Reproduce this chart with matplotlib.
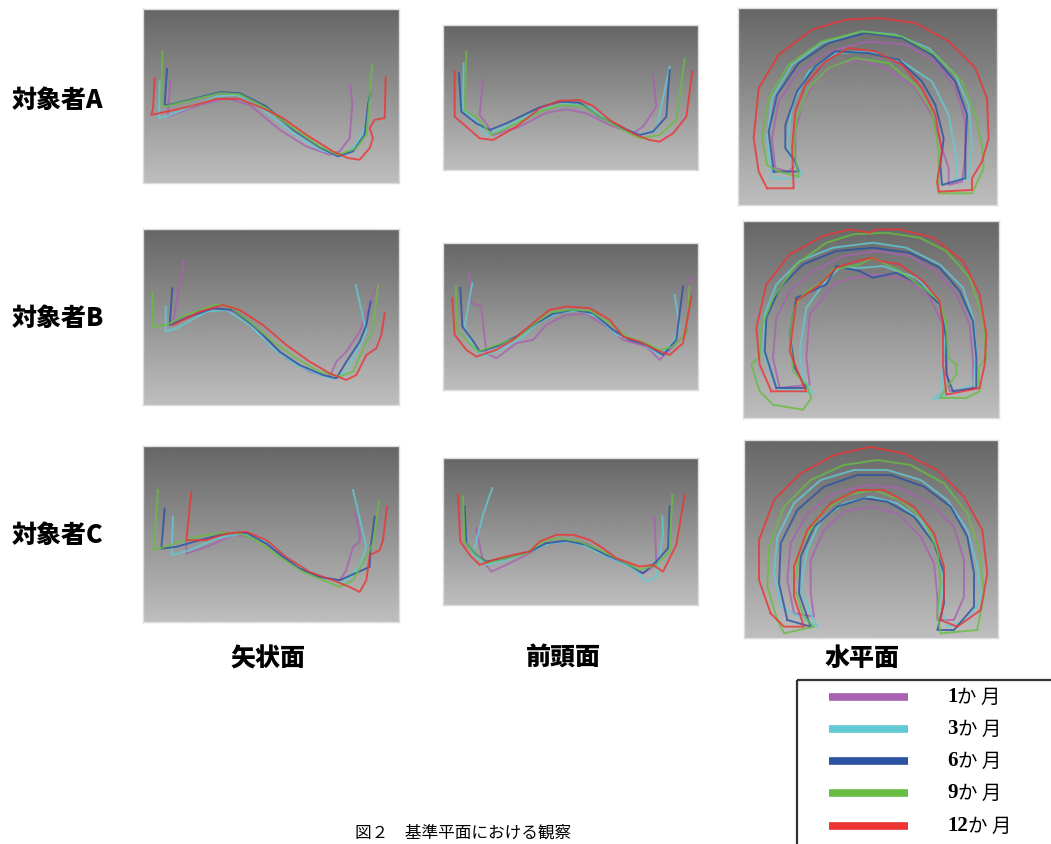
import numpy as np
import matplotlib
matplotlib.use("Agg")
import matplotlib.pyplot as plt
from matplotlib.patches import Rectangle

plt.rcParams['font.family'] = ['Noto Sans CJK JP', 'DejaVu Sans']

W, H = 1051, 844

months = ["1", "3", "6", "9", "12"]
colors = ["#a862b0", "#62cad4", "#2c52a2", "#68bd42", "#ec3434"]
row_labels = ["対象者A", "対象者B", "対象者C"]
col_labels = ["矢状面", "前頭面", "水平面"]
caption = "図２　基準平面における観察"

# traced outlines, one list per period (order: 1, 3, 6, 9, 12 months)
# --- subject A ---
sag_a = [
    [(92,228),(85,320),(85,335),(180,300),(260,280),(330,300),(420,375),(500,425),(570,450),(600,440),(630,400),(638,300),(632,240)],
    [(60,230),(58,340),(80,335),(230,275),(290,270),(370,315),(460,385),(540,435),(605,455),(650,420),(680,360),(690,290)],
    [(82,192),(75,300),(90,300),(240,262),(300,265),(380,305),(460,375),(540,428),(595,455),(640,440),(675,390),(685,300),(692,265)],
    [(68,140),(65,300),(75,305),(240,265),(300,268),(380,310),(460,370),(540,425),(595,450),(650,430),(680,390),(690,280),(697,180)],
    [(45,220),(40,310),(35,330),(60,325),(150,305),(230,282),(300,282),(380,315),(430,340),(500,390),(580,440),(625,460),(660,465),(690,430),(700,400),(690,370),(705,345),(735,340),(738,218)],
]
fro_a = [
    [(130,180),(120,285),(140,310),(160,345),(240,320),(320,278),(380,268),(440,280),(510,315),(580,340),(610,320),(650,260),(640,165)],
    [(72,130),(70,270),(110,305),(140,345),(220,310),(300,268),(380,250),(450,262),(520,310),(600,345),(650,330),(690,140)],
    [(58,160),(65,275),(110,310),(150,330),(200,310),(300,262),(360,245),(420,248),(480,290),(540,320),(600,345),(640,335),(680,290),(690,150)],
    [(80,95),(75,270),(120,300),(155,345),(200,325),(300,275),(360,255),(430,258),(490,295),(550,330),(600,355),(660,345),(710,300),(735,115)],
    [(45,155),(45,290),(80,320),(120,355),(160,360),(230,320),(300,265),(360,242),(420,240),(460,258),(510,300),(590,345),(630,360),(660,365),(700,340),(740,290),(758,155)],
]
hor_a = [
    [(120,490),(110,400),(130,290),(190,200),(280,140),(400,110),(510,120),(600,170),(660,250),(690,350),(690,450),(680,530),(640,540),(640,490),(620,430),(590,330),(540,250),(460,195),(380,165),(300,180),(240,230),(200,300),(180,380),(180,480),(160,500),(120,490)],
    [(110,520),(95,400),(110,280),(170,180),(260,115),(380,80),(480,90),(580,130),(660,210),(700,300),(710,420),(700,520),(660,525),(665,470),(640,330),(590,230),(500,170),(400,140),(300,145),(220,200),(170,300),(155,420),(170,470),(200,505),(180,520),(110,520)],
    [(115,500),(100,380),(125,270),(190,175),(280,115),(390,85),(500,100),(590,150),(660,230),(695,330),(690,440),(690,520),(620,540),(615,480),(625,400),(600,300),(560,230),(490,165),(400,145),(300,140),(240,185),(185,260),(150,360),(150,430),(180,470),(190,500),(115,500)],
    [(95,480),(80,400),(100,280),(160,180),(260,110),(380,80),(500,95),(600,150),(680,230),(720,330),(740,420),(745,490),(710,565),(610,565),(610,520),(610,440),(590,320),(540,240),(460,175),(360,160),(280,190),(220,250),(185,340),(175,430),(190,515),(130,500),(95,480)],
    [(95,550),(70,500),(55,400),(70,250),(130,150),(230,75),(330,45),(430,40),(540,55),(640,110),(720,190),(755,280),(760,400),(740,470),(710,520),(710,555),(610,560),(605,530),(620,440),(600,330),(560,250),(500,180),(420,140),(340,130),(270,170),(210,240),(180,320),(170,430),(175,550),(95,550)],
]
# --- subject B ---
sag_b = [
    [(132,110),(100,290),(160,270),(230,248),(300,265),(370,330),(440,400),(510,440),(570,455),(590,410),(620,380),(660,320),(710,185)],
    [(78,245),(78,320),(110,310),(200,260),(260,255),(330,300),(400,370),(470,420),(540,450),(580,462),(620,440),(650,380),(680,320),(648,180)],
    [(98,190),(90,300),(150,275),(220,250),(280,255),(350,310),(420,380),(480,420),(550,450),(590,460),(620,410),(660,350),(680,300),(693,230)],
    [(38,200),(38,305),(80,300),(140,270),(230,238),(270,245),(330,290),(400,350),(470,400),(540,440),(600,455),(640,440),(680,350),(700,320),(715,180)],
    [(100,300),(180,260),(250,240),(300,255),(370,300),(440,360),(510,410),(570,445),(620,465),(650,450),(680,390),(710,370),(725,330),(735,265)],
]
fro_b = [
    [(88,95),(95,190),(125,200),(140,340),(170,355),(230,310),(280,300),(320,255),(380,225),(440,222),(500,260),(550,300),(620,320),(660,360),(700,320),(740,280),(755,110)],
    [(98,130),(75,260),(100,320),(130,350),(200,320),(250,290),(300,245),(360,218),(420,212),(470,230),(530,285),(600,305),(660,345),(700,310),(720,260),(705,165)],
    [(62,145),(68,260),(105,310),(120,335),(170,320),(230,290),(290,250),(340,222),(400,210),(460,220),(520,270),(570,300),(620,315),(670,345),(710,300),(730,140)],
    [(48,140),(52,270),(90,310),(115,335),(170,315),(230,295),(280,255),(330,218),(390,210),(450,212),(510,250),(560,290),(620,310),(660,330),(700,320),(740,280),(750,140)],
    [(38,175),(45,285),(80,330),(110,350),(170,330),(220,300),(280,250),(330,210),(380,200),(450,205),(510,240),(550,290),(600,305),(650,330),(690,345),(730,310),(755,170)],
]
hor_b = [
    [(120,510),(100,420),(110,300),(150,220),(220,160),(310,115),(410,100),(510,115),(590,160),(650,230),(690,320),(700,430),(700,510),(630,520),(620,450),(610,320),(570,240),(500,185),(420,170),(340,180),(280,200),(250,240),(210,290),(200,420),(210,500),(120,510)],
    [(110,510),(70,400),(75,290),(110,200),(180,130),(280,90),(400,75),(500,90),(600,140),(670,210),(700,300),(710,400),(700,500),(580,545),(610,520),(610,430),(620,330),(590,240),(530,180),(430,145),(370,150),(300,150),(250,200),(200,270),(180,400),(190,480),(220,525),(110,510)],
    [(110,510),(75,400),(80,300),(120,210),(190,140),(290,100),(400,90),(510,105),(600,150),(660,220),(700,310),(710,420),(710,510),(640,520),(620,470),(620,360),(600,260),(540,200),(470,165),(400,180),(360,160),(290,145),(260,200),(170,240),(150,350),(165,450),(200,510),(110,510)],
    [(45,430),(35,440),(60,520),(100,560),(190,575),(215,540),(200,500),(160,460),(150,350),(165,270),(190,230),(250,190),(280,155),(360,140),(400,120),(440,140),(480,160),(550,210),(600,250),(620,320),(625,420),(650,440),(650,470),(620,510),(600,540),(680,540),(720,520),(715,450),(740,420),(730,300),(690,180),(620,100),(540,60),(440,45),(340,50),(260,75),(170,140),(100,240),(65,330),(60,420),(45,430)],
    [(95,520),(60,440),(50,330),(80,200),(150,110),(250,55),(330,35),(390,45),(410,35),(480,35),(580,60),(670,130),(720,230),(740,350),(735,440),(720,510),(620,530),(610,440),(610,320),(600,250),(550,190),(480,140),(420,130),(400,120),(350,130),(290,150),(240,200),(170,250),(150,400),(190,500),(200,520),(95,520)],
]
# --- subject C ---
sag_c = [
    [(140,300),(140,340),(200,320),(280,285),(350,290),(410,330),(480,385),(540,410),(600,420),(620,390),(640,320),(660,305),(660,280),(645,215)],
    [(100,230),(95,345),(150,330),(230,295),(310,280),(370,300),(430,340),(500,390),(570,415),(610,430),(660,380),(680,320),(640,150)],
    [(75,205),(65,325),(110,320),(180,300),(260,280),(320,278),(380,310),(430,350),(480,385),(540,410),(600,420),(690,380),(692,330),(705,230)],
    [(55,150),(42,330),(90,315),(170,290),(240,278),(300,280),(350,300),(420,350),(490,395),(550,420),(600,440),(640,420),(690,330),(700,310),(718,185)],
    [(155,155),(140,300),(200,300),(260,280),(320,275),(380,300),(440,350),(510,395),(580,420),(630,440),(660,455),(680,420),(690,345),(720,330),(730,300),(742,200)],
]
fro_c = [
    [(110,220),(130,320),(155,350),(200,330),(260,300),(320,265),(380,255),(440,265),(510,310),(560,330),(610,355),(650,330),(645,190)],
    [(158,100),(130,180),(100,300),(140,330),(200,315),(270,290),(330,265),(390,260),(440,275),(500,305),(580,340),(620,380),(650,365),(670,240),(668,185)],
    [(75,155),(80,265),(110,300),(140,320),(200,310),(270,290),(320,265),(380,258),(440,270),(500,300),(560,325),(610,355),(650,320),(685,280),(690,155)],
    [(70,125),(75,260),(110,300),(140,325),(200,310),(260,295),(310,260),(360,250),(420,260),(480,285),(540,315),(600,345),(650,330),(690,290),(698,120)],
    [(55,120),(62,260),(90,300),(120,330),(160,315),(220,300),(270,290),(300,260),(350,240),(400,240),(450,255),(490,280),(530,310),(600,335),(640,330),(670,350),(710,270),(735,120)],
]
hor_c = [
    [(150,520),(130,420),(140,310),(190,220),(270,160),(370,135),(470,145),(560,190),(630,260),(660,360),(660,470),(630,540),(580,540),(580,470),(570,370),(530,290),(460,220),(380,200),(300,215),(240,270),(200,360),(200,460),(210,530),(150,520)],
    [(110,500),(90,400),(100,290),(150,190),(230,120),(330,90),(430,90),(530,120),(610,180),(670,270),(700,380),(710,480),(670,540),(610,560),(590,500),(600,420),(580,320),(530,240),(460,190),(380,170),(300,190),(230,240),(190,330),(170,440),(200,520),(220,560),(110,500)],
    [(130,540),(105,430),(110,310),(160,210),(240,140),(340,105),(440,105),(540,140),(620,200),(670,290),(690,400),(690,500),(630,570),(580,570),(600,490),(600,400),(570,310),(510,230),(430,185),(360,175),(280,200),(210,260),(170,350),(165,460),(200,560),(130,540)],
    [(100,540),(70,440),(75,320),(120,200),(200,120),(300,75),(400,60),(500,75),(600,130),(670,220),(705,330),(720,460),(700,570),(590,580),(580,520),(590,430),(580,330),(540,240),(470,180),(390,150),(310,165),(230,220),(170,320),(150,440),(180,530),(210,560),(120,580),(100,540)],
    [(80,520),(45,420),(45,300),(90,180),(170,100),(270,45),(378,21),(480,40),(580,90),(660,170),(715,270),(730,400),(710,510),(640,560),(590,540),(600,470),(600,380),(570,280),(510,200),(420,150),(340,150),(260,190),(190,270),(150,380),(150,470),(180,560),(120,560),(80,520)],
]

panel_data = [[sag_a, fro_a, hor_a], [sag_b, fro_b, hor_b], [sag_c, fro_c, hor_c]]
# panel boxes in figure pixels (left, top, right, bottom) and local trace extent
panel_box = [
    [(143, 9, 399, 183), (443, 25, 698, 170), (738, 8, 997, 205)],
    [(143, 229, 399, 405), (443, 243, 698, 390), (743, 221, 999, 418)],
    [(143, 446, 399, 622), (443, 458, 698, 605), (744, 440, 998, 638)],
]
panel_ext = [
    [(10, 778, 12, 535), (10, 775, 15, 450), (8, 785, 10, 600)],
    [(10, 778, 12, 540), (10, 775, 10, 450), (10, 778, 10, 600)],
    [(10, 778, 18, 545), (10, 775, 10, 450), (0, 762, 0, 594)],
]

fig = plt.figure(figsize=(W / 100, H / 100), dpi=100)
fig.patch.set_facecolor("white")

grad = np.linspace(102, 190, 200).reshape(-1, 1)

for r in range(3):
    for c in range(3):
        l, t, rr, b = panel_box[r][c]
        x0, x1, y0, y1 = panel_ext[r][c]
        ax = fig.add_axes([l / W, 1 - b / H, (rr - l) / W, (b - t) / H])
        ax.imshow(grad, cmap="gray", vmin=0, vmax=255, aspect="auto",
                  extent=(x0, x1, y1, y0), interpolation="bilinear")
        for pts, col in zip(panel_data[r][c], colors):
            xs = [p[0] for p in pts]
            ys = [p[1] for p in pts]
            ax.plot(xs, ys, color=col, lw=1.4, alpha=0.8, solid_joinstyle="round")
        ax.set_xlim(x0, x1)
        ax.set_ylim(y1, y0)
        ax.set_xticks([])
        ax.set_yticks([])
        for s in ax.spines.values():
            s.set_color("#dcdcdc")
            s.set_linewidth(1)

# row and column labels
row_y = [100, 318, 535]
for lab, y in zip(row_labels, row_y):
    fig.text(12 / W, 1 - y / H, lab, fontsize=18, fontweight="heavy",
             va="center", ha="left")
col_x = [268, 563, 862]
for lab, x in zip(col_labels, col_x):
    fig.text(x / W, 1 - 658 / H, lab, fontsize=18, fontweight="heavy",
             va="center", ha="center")

# legend
lax = fig.add_axes([0, 0, 1, 1])
lax.set_xlim(0, W)
lax.set_ylim(H, 0)
lax.axis("off")
lax.add_patch(Rectangle((797, 680), 300, 200, fill=False, ec="#333333", lw=1.6))
leg_y = [697, 729, 761, 793, 826]
for m, col, y in zip(months, colors, leg_y):
    lax.plot([829, 908], [y, y], color=col, lw=5.5, solid_capstyle="butt")
    num = lax.text(947, y, m, fontsize=15, fontweight="bold",
                   family="Liberation Serif", va="center", ha="left")
    lax.annotate("か 月", xy=(1, 0.5), xycoords=num, va="center", ha="left",
                 fontsize=14)

fig.text(355 / W, 1 - 842 / H, caption, fontsize=12, va="bottom", ha="left")

fig.savefig("out.png", dpi=100)
